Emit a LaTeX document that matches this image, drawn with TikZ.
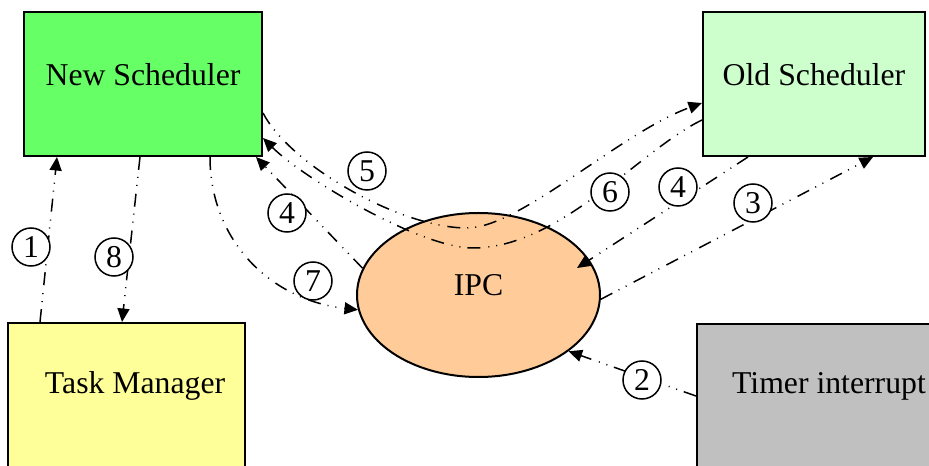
\documentclass[tikz,border=0pt]{standalone}
\usepackage{fontspec}
\setmainfont{Liberation Serif}
\usetikzlibrary{arrows.meta, shapes.geometric}

\definecolor{nsgreen}{RGB}{102,255,102}
\definecolor{osgreen}{RGB}{204,255,204}
\definecolor{tmyellow}{RGB}{255,255,153}
\definecolor{tigray}{RGB}{192,192,192}
\definecolor{ipcorange}{RGB}{255,204,153}

\begin{document}
\begin{tikzpicture}[
    x=0.4pt, y=-0.4pt,
    every node/.style={font=\fontsize{12.7}{15}\selectfont},
    box/.style={rectangle, draw, line width=0.8pt, minimum height=57.6pt, inner sep=0pt, text height=9pt},
    ipcnode/.style={ellipse, draw, line width=0.8pt, fill=ipcorange, inner sep=0pt, text height=9pt},
    flow/.style={line width=0.6pt, dash pattern=on 5.2pt off 2.8pt on 0.4pt off 2.8pt on 0.4pt off 3.2pt},
    num/.style={circle, draw, fill=white, line width=0.6pt, minimum size=15.2pt, inner sep=0pt},
    >={Triangle[length=5.4pt, width=4.8pt]},
]
\useasboundingbox (0,0) rectangle (929,466);
\clip (0,0) rectangle (929,466);
\fill[white] (0,0) rectangle (929,466);

\node[box, fill=nsgreen, minimum width=95.2pt, text depth=7.8pt] (ns) at (143,84) {New Scheduler};
\node[box, fill=osgreen, minimum width=88.8pt, text depth=7.8pt] (os) at (814,84) {Old Scheduler};
\node[box, fill=tmyellow, minimum width=94.8pt, text depth=10.2pt, text width=79pt, align=flush right] (tm) at (126.5,395) {Task Manager};
\node[box, fill=tigray, minimum width=105.6pt, text depth=11pt] (ti) at (829,396) {Timer interrupt};
\node[ipcnode, minimum width=97.2pt, minimum height=65.6pt, text depth=8.6pt] (ipc) at (478.5,295) {IPC};

\draw[flow, ->] ([shift={(-86.5,0)}]tm.north) -- ([shift={(-86,0)}]ns.south);
\draw[flow, ->] (ti.west) -- (ipc.-32);
\draw[flow, ->] (ipc.-2) -- ([shift={(59,0)}]os.south);
\draw[flow, ->] ([shift={(-66,0)}]os.south) -- ([shift={(98.5,-27)}]ipc.center);
\draw[flow, ->] (ipc.167) -- ([shift={(-7,0)}]ns.south east);
\draw[flow, ->] ([shift={(0,29)}]ns.east) .. controls (290,165) and (400,228) .. (467,228)
    .. controls (520,228) and (620,133) .. ([shift={(0,19)}]os.west);
\draw[flow, ->] ([shift={(0,36)}]os.west) .. controls (640,150) and (560,248) .. (473,248)
    .. controls (420,248) and (303,178) .. ([shift={(0,54)}]ns.east);
\draw[flow, ->] ([shift={(67,0)}]ns.south) .. controls (210,240) and (270,300) .. (ipc.-173);
\draw[flow, ->] ([shift={(-3,0)}]ns.south) -- ([shift={(-4.5,0)}]tm.north);

\node[num] (l1) at (31,247) {1};
\node[num] (l2) at (642,380) {2};
\node[num] (l3) at (753,203) {3};
\node[num] (l4a) at (678,187) {4};
\node[num] (l4b) at (287,213) {4};
\node[num] (l5) at (367,171) {5};
\node[num] (l6) at (610,192) {6};
\node[num] (l7) at (313,281) {7};
\node[num] (l8) at (114,257) {8};
\end{tikzpicture}
\end{document}
